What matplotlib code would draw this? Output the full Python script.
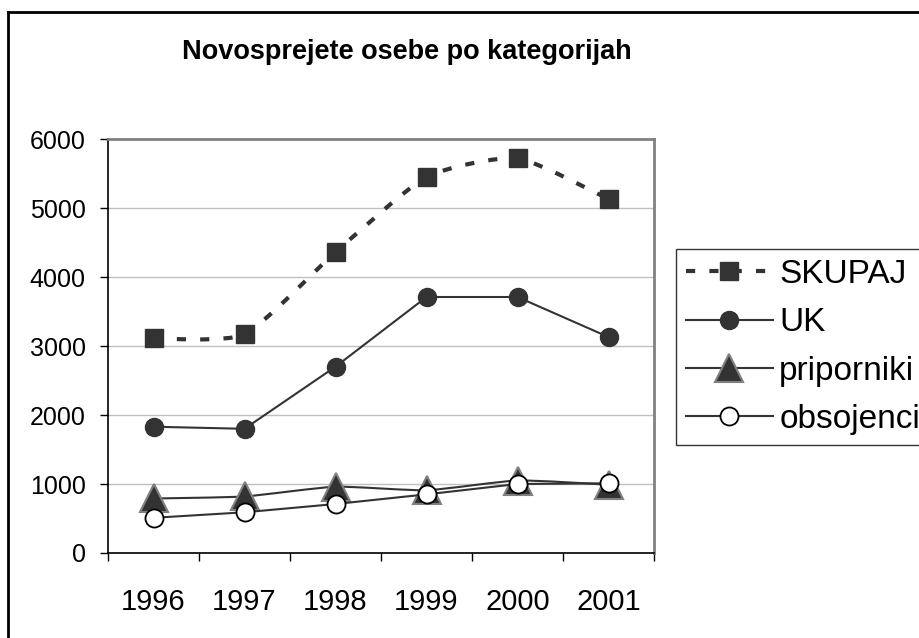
import matplotlib
matplotlib.use('Agg')
import matplotlib.pyplot as plt
from matplotlib.path import Path
from matplotlib.patches import PathPatch
from matplotlib.lines import Line2D
import numpy as np

plt.rcParams['font.family'] = ['Liberation Sans', 'DejaVu Sans']

# podatki
leta = ['1996', '1997', '1998', '1999', '2000', '2001']
skupaj = [3110, 3170, 4360, 5450, 5720, 5130]
uk = [1830, 1800, 2700, 3710, 3710, 3130]
priporniki = [790, 820, 960, 910, 1050, 990]
obsojenci = [510, 590, 710, 850, 1000, 1010]

BARVA = '#333333'


def gladka_krivulja(x, y, k=0.1):
    # glajena crta kot bezier odseki (podobno kot v Excelu)
    pts = np.column_stack([x, y]).astype(float)
    n = len(pts)
    verts = [pts[0]]
    codes = [Path.MOVETO]
    for i in range(n - 1):
        p0 = pts[i - 1] if i > 0 else pts[i]
        p1 = pts[i]
        p2 = pts[i + 1]
        p3 = pts[i + 2] if i + 2 < n else pts[i + 1]
        c1 = p1 + (p2 - p0) * k
        c2 = p2 - (p3 - p1) * k
        verts += [c1, c2, p2]
        codes += [Path.CURVE4] * 3
    return Path(verts, codes)


fig = plt.figure(figsize=(9.19, 6.38), dpi=100)
ax = fig.add_axes([108 / 919, 1 - 553 / 638, (654 - 108) / 919, (553 - 139) / 638])

x = np.arange(len(leta))

# SKUPAJ - glajena crtkana crta
ax.add_patch(PathPatch(gladka_krivulja(x, skupaj), fill=False, edgecolor=BARVA,
                       linewidth=3, linestyle=(0, (2.2, 3.4)), zorder=3))
ax.plot(x, skupaj, linestyle='none', marker='s', markersize=13, color=BARVA, zorder=4)

# UK
ax.plot(x, uk, color=BARVA, linewidth=1.5, marker='o', markersize=13, zorder=4)

# priporniki - glajena crta
ax.add_patch(PathPatch(gladka_krivulja(x, priporniki), fill=False, edgecolor=BARVA,
                       linewidth=1.5, zorder=5))
ax.plot(x, priporniki, linestyle='none', marker='^', markersize=20,
        markerfacecolor=BARVA, markeredgecolor='#808080', markeredgewidth=1.5, zorder=6)

# obsojenci
ax.plot(x, obsojenci, color=BARVA, linewidth=1.5, marker='o', markersize=13,
        markerfacecolor='white', markeredgecolor='black', markeredgewidth=1.3, zorder=7)

# osi
ax.set_xlim(-0.5, len(leta) - 0.5)
ax.set_ylim(0, 6000)
ax.set_yticks(range(0, 6001, 1000))
ax.yaxis.grid(True, color='#c0c0c0', linewidth=1)
ax.set_axisbelow(True)

ax.set_xticks(np.arange(-0.5, len(leta), 1.0))
ax.set_xticklabels([])
ax.set_xticks(x, minor=True)
ax.set_xticklabels(leta, minor=True, fontsize=21)
ax.tick_params(axis='x', which='major', direction='out', length=6, width=1, color='black')
ax.tick_params(axis='x', which='minor', length=0, pad=25)
ax.tick_params(axis='y', direction='out', length=6, width=1, labelsize=18, pad=10)

for s in ['left', 'bottom']:
    ax.spines[s].set_color('black')
    ax.spines[s].set_linewidth(1.2)
for s in ['top', 'right']:
    ax.spines[s].set_color('#808080')
    ax.spines[s].set_linewidth(2)

# naslov
fig.text(407 / 919, 1 - 52 / 638, 'Novosprejete osebe po kategorijah',
         ha='center', va='center', fontsize=19.5, fontweight='bold')

# legenda
rocaji = [
    Line2D([], [], color=BARVA, linewidth=3, linestyle=(0, (2.2, 3.4)), marker='s', markersize=13),
    Line2D([], [], color=BARVA, linewidth=1.5, marker='o', markersize=13),
    Line2D([], [], color=BARVA, linewidth=1.5, marker='^', markersize=20,
           markerfacecolor=BARVA, markeredgecolor='#808080', markeredgewidth=1.5),
    Line2D([], [], color=BARVA, linewidth=1.5, marker='o', markersize=13,
           markerfacecolor='white', markeredgecolor='black', markeredgewidth=1.3),
]
leg = fig.legend(rocaji, ['SKUPAJ', 'UK', 'priporniki', 'obsojenci'],
                 loc='upper left', bbox_to_anchor=(676 / 919, 1 - 249 / 638),
                 borderaxespad=0, fontsize=24, frameon=True, fancybox=False,
                 handlelength=2.6, handletextpad=0.2, labelspacing=0.52,
                 borderpad=0.3)
leg.get_frame().set_edgecolor('black')
leg.get_frame().set_linewidth(1)

# okvir grafikona
fig.add_artist(Line2D([8 / 919, 8 / 919], [0, 1 - 12 / 638], color='black', linewidth=2))
fig.add_artist(Line2D([8 / 919, 1], [1 - 12 / 638, 1 - 12 / 638], color='black', linewidth=2))

fig.savefig('out.png', dpi=100)
